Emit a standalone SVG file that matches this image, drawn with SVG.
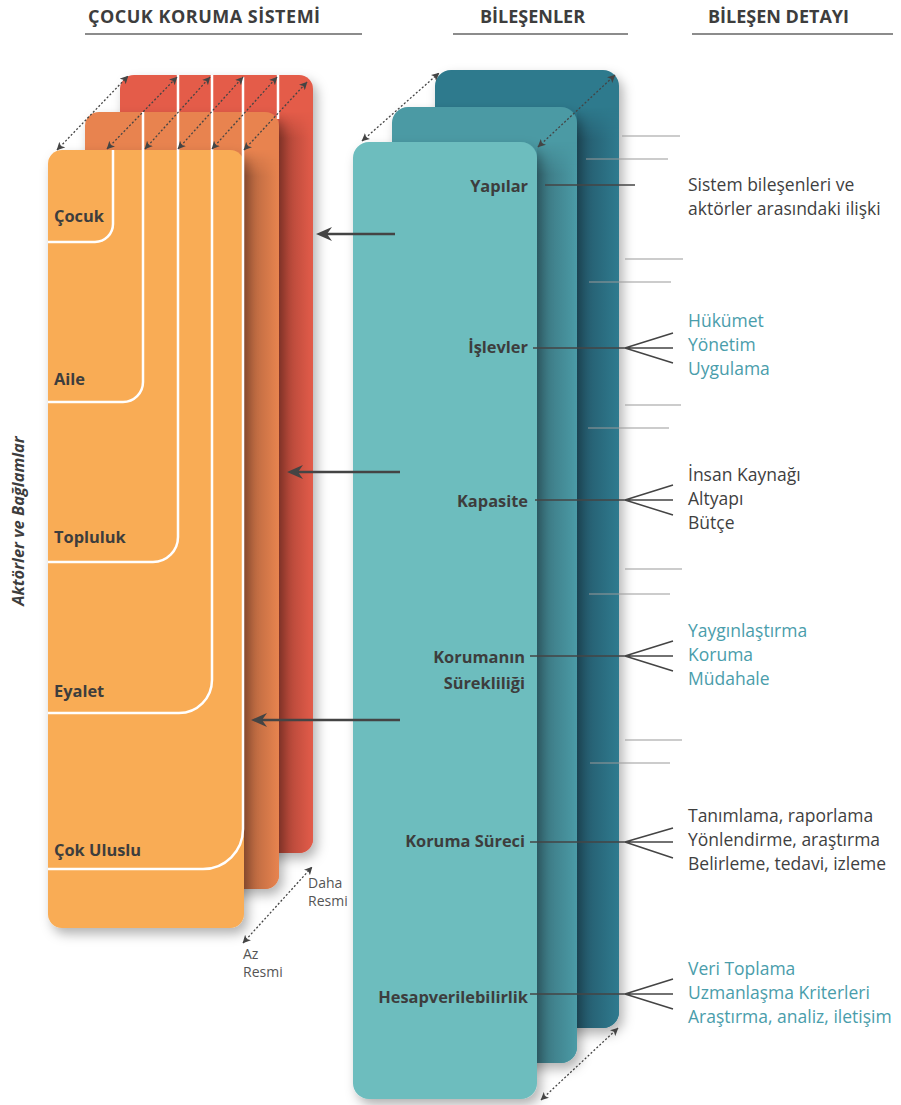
<svg xmlns="http://www.w3.org/2000/svg" width="901" height="1105" viewBox="0 0 901 1105">
<style>
.hdr{font-family:"Open Sans","Liberation Sans",sans-serif;font-weight:700;font-size:18px;fill:#3d3d3d}
.hl{stroke:#666;stroke-width:1.5}
.lbl{font-family:"Open Sans","Liberation Sans",sans-serif;font-weight:700;font-size:16.4px;fill:#3d3d3d}
.det{font-family:"Open Sans","Liberation Sans",sans-serif;font-size:17.5px;fill:#3f3f3f}
.tl{fill:#4a9dab}
.small{font-family:"Open Sans","Liberation Sans",sans-serif;font-size:14px;fill:#555}
.wl{fill:none;stroke:#fff;stroke-width:2.5}
.dot{stroke:#444;stroke-width:1.3;stroke-dasharray:2 2;fill:none;marker-start:url(#dh);marker-end:url(#dh)}
.big{stroke:#444;stroke-width:2.5;fill:none;marker-end:url(#bh)}
.conn{stroke:#444;stroke-width:1.5;fill:none}
.thin{stroke:#999;stroke-width:1.2;fill:none}
</style>
<defs>
<filter id="sh" x="-20%" y="-10%" width="150%" height="130%">
<feDropShadow dx="4" dy="6" stdDeviation="6" flood-color="#000" flood-opacity="0.3"/>
</filter>
<linearGradient id="vfade" x1="0" x2="0" y1="0" y2="1">
<stop offset="0" stop-color="#000"/><stop offset="0.035" stop-color="#fff"/><stop offset="1" stop-color="#fff"/>
</linearGradient>
<mask id="fade" maskContentUnits="objectBoundingBox"><rect width="1" height="1" fill="url(#vfade)"/></mask>
<linearGradient id="sRed" gradientUnits="userSpaceOnUse" x1="279" x2="313" y1="0" y2="0">
<stop offset="0" stop-color="#a54133"/><stop offset="1" stop-color="#e35c4a"/>
</linearGradient>
<linearGradient id="sOr" gradientUnits="userSpaceOnUse" x1="244" x2="279" y1="0" y2="0">
<stop offset="0" stop-color="#ad603c"/><stop offset="1" stop-color="#e8844f"/>
</linearGradient>
<linearGradient id="sT1" gradientUnits="userSpaceOnUse" x1="577" x2="619" y1="0" y2="0">
<stop offset="0" stop-color="#235668"/><stop offset="1" stop-color="#2f7b8f"/>
</linearGradient>
<linearGradient id="sT2" gradientUnits="userSpaceOnUse" x1="537" x2="577" y1="0" y2="0">
<stop offset="0" stop-color="#39717c"/><stop offset="1" stop-color="#4b9ba6"/>
</linearGradient>
<clipPath id="cRed"><rect x="120" y="75" width="193" height="778" rx="14"/></clipPath>
<clipPath id="cOr"><rect x="85" y="112" width="194" height="777" rx="14"/></clipPath>
<clipPath id="cT1"><rect x="435" y="70" width="184" height="958" rx="16"/></clipPath>
<clipPath id="cT2"><rect x="392" y="107" width="185" height="956" rx="16"/></clipPath>
<marker id="dh" viewBox="0 0 8 8" refX="7.5" refY="4" markerWidth="8" markerHeight="8" markerUnits="userSpaceOnUse" orient="auto-start-reverse">
<path d="M0,0 L8,4 L0,8 L2,4 Z" fill="#444"/>
</marker>
<marker id="bh" viewBox="0 0 16 14" refX="6" refY="7" markerWidth="16" markerHeight="14" markerUnits="userSpaceOnUse" orient="auto">
<path d="M0,0 L16,7 L0,14 L5,7 Z" fill="#444"/>
</marker>
</defs>

<g id="headers">
<text class="hdr" x="88" y="23" letter-spacing="0.5">ÇOCUK KORUMA SİSTEMİ</text>
<line class="hl" x1="85" y1="34" x2="362" y2="34"/>
<text class="hdr" x="480" y="23">BİLEŞENLER</text>
<line class="hl" x1="453" y1="34" x2="628" y2="34"/>
<text class="hdr" x="708" y="23">BİLEŞEN DETAYI</text>
<line class="hl" x1="692" y1="34" x2="893" y2="34"/>
</g>

<g id="axis-label">
<text class="lbl" font-size="17" font-style="italic" transform="translate(24,521) rotate(-90)" text-anchor="middle">Aktörler ve Bağlamlar</text>
</g>

<g id="left-stack">
<g id="card-red">
<rect x="120" y="75" width="193" height="778" rx="14" fill="#e45c4a" filter="url(#sh)"/>
<rect x="279" y="112" width="34" height="741" fill="url(#sRed)" clip-path="url(#cRed)" mask="url(#fade)"/>
</g>
<g id="card-orange">
<rect x="85" y="112" width="194" height="777" rx="14" fill="#e8834f" filter="url(#sh)"/>
<rect x="244" y="150" width="35" height="739" fill="url(#sOr)" clip-path="url(#cOr)" mask="url(#fade)"/>
</g>
<rect id="card-front" x="48" y="150" width="196" height="778" rx="14" fill="#f9ac55" filter="url(#sh)"/>
</g>

<g id="ctx-cocuk"><path class="wl" d="M113,150 V224 A18,18 0 0 1 95,242 H48"/><text class="lbl" x="54" y="222">Çocuk</text></g>
<g id="ctx-aile"><path class="wl" d="M143,112 V382 A20,20 0 0 1 123,402 H48"/><text class="lbl" x="54" y="385">Aile</text></g>
<g id="ctx-topluluk"><path class="wl" d="M178,75 V537 A25,25 0 0 1 153,562 H48"/><text class="lbl" x="54" y="543">Topluluk</text></g>
<g id="ctx-eyalet"><path class="wl" d="M212,75 V680 A33,33 0 0 1 179,713 H48"/><text class="lbl" x="54" y="697">Eyalet</text></g>
<g id="ctx-cokuluslu"><path class="wl" d="M243,77 V829 A40,40 0 0 1 203,869 H48"/><path class="wl" d="M278,75 V119"/><text class="lbl" x="54" y="856">Çok Uluslu</text></g>

<g id="right-stack">
<g id="t-back">
<rect x="435" y="70" width="184" height="958" rx="16" fill="#2f7a8d" filter="url(#sh)"/>
<rect x="577" y="107" width="42" height="921" fill="url(#sT1)" clip-path="url(#cT1)" mask="url(#fade)"/>
</g>
<g id="t-mid">
<rect x="392" y="107" width="185" height="956" rx="16" fill="#4b9aa4" filter="url(#sh)"/>
<rect x="537" y="142" width="40" height="921" fill="url(#sT2)" clip-path="url(#cT2)" mask="url(#fade)"/>
</g>
<rect id="t-front" x="353" y="142" width="184" height="957" rx="16" fill="#6dbdbe" filter="url(#sh)"/>
</g>

<g id="comp-yapilar"><text class="lbl" x="528" y="192" text-anchor="end">Yapılar</text></g>
<g id="comp-islevler"><text class="lbl" x="528" y="353" text-anchor="end">İşlevler</text></g>
<g id="comp-kapasite"><text class="lbl" x="528" y="507" text-anchor="end">Kapasite</text></g>
<g id="comp-sureklilik"><text class="lbl" x="525" y="663" text-anchor="end">Korumanın</text><text class="lbl" x="525" y="689" text-anchor="end">Sürekliliği</text></g>
<g id="comp-surec"><text class="lbl" x="525" y="847" text-anchor="end">Koruma Süreci</text></g>
<g id="comp-hesap"><text class="lbl" x="528" y="1003" text-anchor="end">Hesapverilebilirlik</text></g>

<g id="detail-yapilar"><text class="det" x="688" y="191">Sistem bileşenleri ve</text><text class="det" x="688" y="215">aktörler arasındaki ilişki</text></g>
<g id="detail-islevler"><text class="det tl" x="688" y="327">Hükümet</text><text class="det tl" x="688" y="351">Yönetim</text><text class="det tl" x="688" y="375">Uygulama</text></g>
<g id="detail-kapasite"><text class="det" x="688" y="481">İnsan Kaynağı</text><text class="det" x="688" y="505">Altyapı</text><text class="det" x="688" y="529">Bütçe</text></g>
<g id="detail-sureklilik"><text class="det tl" x="688" y="637">Yaygınlaştırma</text><text class="det tl" x="688" y="661">Koruma</text><text class="det tl" x="688" y="685">Müdahale</text></g>
<g id="detail-surec"><text class="det" x="688" y="822">Tanımlama, raporlama</text><text class="det" x="688" y="846">Yönlendirme, araştırma</text><text class="det" x="688" y="870">Belirleme, tedavi, izleme</text></g>
<g id="detail-hesap"><text class="det tl" x="688" y="975">Veri Toplama</text><text class="det tl" x="688" y="999">Uzmanlaşma Kriterleri</text><text class="det tl" x="688" y="1023">Araştırma, analiz, iletişim</text></g>

<g id="scale-labels">
<text class="small" x="308" y="888">Daha</text><text class="small" x="308" y="906">Resmi</text>
<text class="small" x="243" y="959">Az</text><text class="small" x="243" y="977">Resmi</text>
</g>

<g id="connectors">
<line class="dot" x1="57" y1="150" x2="128" y2="76"/>
<line class="dot" x1="107" y1="149" x2="177" y2="77"/>
<line class="dot" x1="145" y1="149" x2="210" y2="77"/>
<line class="dot" x1="178" y1="149" x2="243" y2="77"/>
<line class="dot" x1="212" y1="149" x2="277" y2="77"/>
<line class="dot" x1="244" y1="150" x2="307" y2="82"/>
<line class="dot" x1="243" y1="943" x2="312" y2="867"/>
<line class="dot" x1="362" y1="141" x2="439" y2="73"/>
<line class="dot" x1="538" y1="147" x2="615" y2="75"/>
<line class="dot" x1="541" y1="1100" x2="618" y2="1028"/>

<line class="big" x1="395" y1="234" x2="326" y2="234"/>
<line class="big" x1="400" y1="472" x2="297" y2="472"/>
<line class="big" x1="400" y1="720" x2="261" y2="720"/>

<line class="conn" x1="545" y1="185" x2="635" y2="185"/>
<path class="conn" d="M533,348 H673 M625,348 L673,333 M625,348 L673,363"/>
<path class="conn" d="M535,500 H673 M625,500 L673,485 M625,500 L673,515"/>
<path class="conn" d="M530,656 H673 M625,656 L673,641 M625,656 L673,671"/>
<path class="conn" d="M530,842 H673 M625,842 L673,828 M625,842 L673,858"/>
<path class="conn" d="M530,994 H673 M625,994 L673,979 M625,994 L673,1009"/>

<path class="thin" d="M622,136 H680 M586,159 H668 M625,259 H683 M589,282 H671 M625,405 H681 M588,428 H669 M625,569 H682 M589,594 H670 M625,740 H682 M590,763 H670"/>
</g>
</svg>
